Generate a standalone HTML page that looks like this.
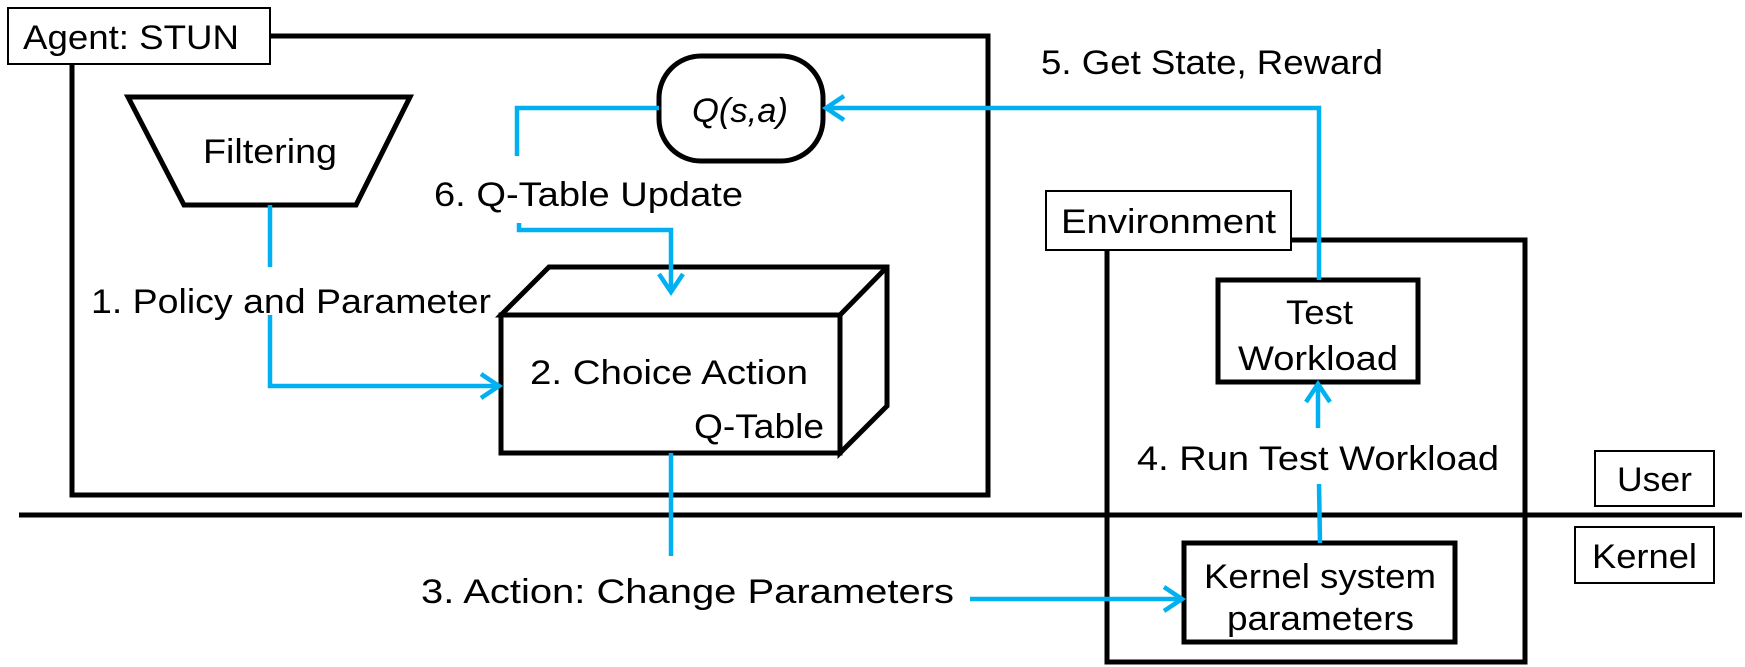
<!DOCTYPE html>
<html><head><meta charset="utf-8"><style>
html,body{margin:0;padding:0;background:#fff;}
svg{display:block}
text{font-family:"Liberation Sans",sans-serif;font-size:34px;fill:#000;}
</style></head><body>
<svg width="1745" height="667" viewBox="0 0 1745 667" xmlns="http://www.w3.org/2000/svg">
<g fill="none" stroke="#000" stroke-width="5">
<rect x="72" y="36" width="916" height="459"/>
<polygon points="128,97 410,97 356,205 184,205"/>
<rect x="659" y="56" width="164" height="105" rx="42"/>
<polygon points="501,315 549,267 887,267 887,406 840,453 840,315"/>
<rect x="501" y="315" width="339" height="138"/>
<line x1="840" y1="315" x2="887" y2="267"/>
<rect x="1107" y="240" width="418" height="422"/>
<rect x="1218" y="280" width="200" height="102"/>
<rect x="1184" y="543" width="271" height="99"/>
</g>
<line x1="19" y1="515" x2="1742" y2="515" stroke="#000" stroke-width="5"/>
<g fill="#fff" stroke="#000" stroke-width="2">
<rect x="8" y="8" width="262" height="56"/>
<rect x="1046" y="191" width="245" height="59"/>
<rect x="1595" y="451" width="119" height="55"/>
<rect x="1575" y="527" width="139" height="56"/>
</g>
<g fill="none" stroke="#00B0F0" stroke-width="4.5">
<polyline points="659,108 517,108 517,156"/>
<polyline points="519,223 519,230 671,230 671,292"/>
<polyline points="659,274 671,292 683,274"/>
<line x1="270" y1="205" x2="270" y2="267"/>
<polyline points="270,315 270,386 499,386"/>
<polyline points="481,374 499,386 481,398"/>
<line x1="671" y1="453" x2="671" y2="556"/>
<polyline points="970,599 1182,599"/>
<polyline points="1164,587 1182,599 1164,611"/>
<polyline points="826,108 1319,108 1319,280"/>
<polyline points="844,96 826,108 844,120"/>
<line x1="1320" y1="543" x2="1319" y2="484"/>
<line x1="1318" y1="428" x2="1318" y2="384"/>
<polyline points="1306,402 1318,384 1330,402"/>
</g>
<text x="23" y="49" textLength="216" lengthAdjust="spacingAndGlyphs">Agent: STUN</text>
<text x="203" y="163" textLength="134" lengthAdjust="spacingAndGlyphs">Filtering</text>
<text x="692" y="122" font-family="Liberation Serif" font-style="italic" font-size="36" textLength="96" lengthAdjust="spacingAndGlyphs">Q(s,a)</text>
<text x="434" y="206" textLength="309" lengthAdjust="spacingAndGlyphs">6. Q-Table Update</text>
<text x="91" y="313" textLength="400" lengthAdjust="spacingAndGlyphs">1. Policy and Parameter</text>
<text x="530" y="384" textLength="278" lengthAdjust="spacingAndGlyphs">2. Choice Action</text>
<text x="694" y="438" textLength="130" lengthAdjust="spacingAndGlyphs">Q-Table</text>
<text x="421" y="603" textLength="533" lengthAdjust="spacingAndGlyphs">3. Action: Change Parameters</text>
<text x="1041" y="74" textLength="342" lengthAdjust="spacingAndGlyphs">5. Get State, Reward</text>
<text x="1061" y="233" textLength="215" lengthAdjust="spacingAndGlyphs">Environment</text>
<text x="1286" y="324" textLength="67" lengthAdjust="spacingAndGlyphs">Test</text>
<text x="1238" y="370" textLength="160" lengthAdjust="spacingAndGlyphs">Workload</text>
<text x="1137" y="470" textLength="362" lengthAdjust="spacingAndGlyphs">4. Run Test Workload</text>
<text x="1204" y="588" textLength="232" lengthAdjust="spacingAndGlyphs">Kernel system</text>
<text x="1227" y="630" textLength="187" lengthAdjust="spacingAndGlyphs">parameters</text>
<text x="1617" y="491" textLength="75" lengthAdjust="spacingAndGlyphs">User</text>
<text x="1592" y="568" textLength="105" lengthAdjust="spacingAndGlyphs">Kernel</text>
</svg>
</body></html>
